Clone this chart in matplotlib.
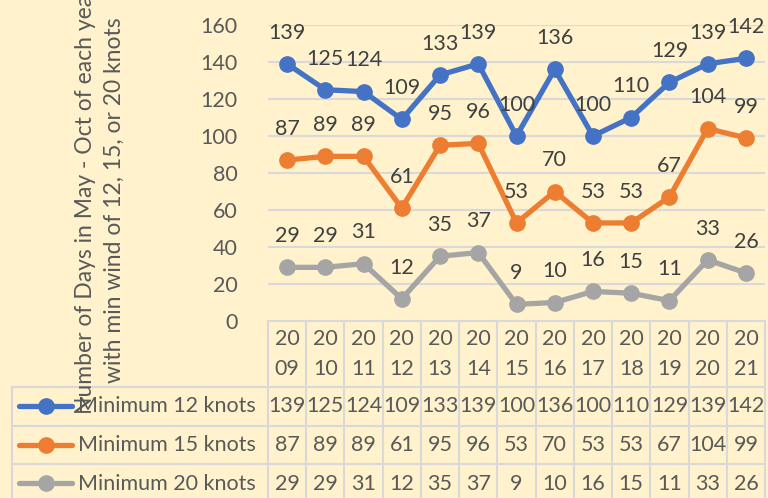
import matplotlib
matplotlib.use("Agg")
import matplotlib.pyplot as plt
from matplotlib.transforms import Affine2D, blended_transform_factory
from matplotlib.lines import Line2D

years = ["2009", "2010", "2011", "2012", "2013", "2014", "2015", "2016", "2017", "2018", "2019", "2020", "2021"]
min12 = [139, 125, 124, 109, 133, 139, 100, 136, 100, 110, 129, 139, 142]
min15 = [87, 89, 89, 61, 95, 96, 53, 70, 53, 53, 67, 104, 99]
min20 = [29, 29, 31, 12, 35, 37, 9, 10, 16, 15, 11, 33, 26]
series_names = ["Minimum 12 knots", "Minimum 15 knots", "Minimum 20 knots"]
series = [min12, min15, min20]
colors = ["#4472C4", "#ED7D31", "#A5A5A5"]
yticks = [0, 20, 40, 60, 80, 100, 120, 140, 160]
ylabel = "Number of Days in May - Oct of each year\nwith min wind of 12, 15, or 20 knots"

BG = "#FFF2CC"
TXT = "#595959"
GRID = "#D9D9D9"
FONT = "Lato"
FS = 15.5

W, H = 768, 498
fig = plt.figure(figsize=(W / 100, H / 100), dpi=100, facecolor=BG)
L, R, T, B = 268, 765, 25, 321
ax = fig.add_axes([L / W, 1 - B / H, (R - L) / W, (B - T) / H])
ax.set_facecolor(BG)
n = len(years)
xs = list(range(n))
ax.set_xlim(-0.5, n - 0.5)
ax.set_ylim(0, 160)
for s in ax.spines.values():
    s.set_visible(False)
ax.set_xticks([])
ax.set_yticks(yticks)
ax.set_yticklabels([str(v) for v in yticks], fontfamily=FONT, fontsize=FS, color=TXT)
ax.tick_params(axis="y", length=0, pad=22)
for v in yticks[1:]:
    ax.axhline(v, color=GRID, lw=1.5, zorder=0)

for vals, c in zip(series, colors):
    ax.plot(xs, vals, color=c, lw=3.8, marker="o", ms=11, zorder=3, solid_capstyle="round")
    for x, v in zip(xs, vals):
        ax.annotate(str(v), (x, v), xytext=(0, 22.5), textcoords="offset points",
                    ha="center", va="center", fontfamily=FONT, fontsize=FS, color="#404040",
                    annotation_clip=False)

# pixel transform (x, y from top)
pix = Affine2D().scale(1 / W, -1 / H).translate(0, 1) + fig.transFigure
bt = blended_transform_factory(ax.transData, pix)

# data table
tl = dict(color=GRID, lw=1.5, clip_on=False)
row_top = 321
hdr_bot = 387
rows = [387, 426, 464, 503]
for y in [row_top] + rows:
    fig.add_artist(Line2D([-0.5, n - 0.5], [y, y], transform=bt, **tl))
for y in rows:
    fig.add_artist(Line2D([12, L], [y, y], transform=pix, **tl))
fig.add_artist(Line2D([12, 12], [hdr_bot, 503], transform=pix, **tl))
for i in range(n + 1):
    fig.add_artist(Line2D([i - 0.5, i - 0.5], [row_top, 503], transform=bt, **tl))

for x, yr in zip(xs, years):
    fig.text(x, 339, yr[:2], transform=bt, ha="center", va="center",
             fontfamily=FONT, fontsize=FS, color=TXT)
    fig.text(x, 369, yr[2:], transform=bt, ha="center", va="center",
             fontfamily=FONT, fontsize=FS, color=TXT)

for r, (name, vals, c) in enumerate(zip(series_names, series, colors)):
    yc = (rows[r] + rows[r + 1]) / 2
    fig.add_artist(Line2D([19, 72], [yc, yc], transform=pix, color=c, lw=3.8,
                          solid_capstyle="round"))
    fig.add_artist(Line2D([45.5], [yc], transform=pix, color=c, marker="o", ms=11))
    fig.text(78, yc, name, transform=pix, ha="left", va="center",
             fontfamily=FONT, fontsize=FS, color=TXT)
    for x, v in zip(xs, vals):
        fig.text(x, yc, str(v), transform=bt, ha="center", va="center",
                 fontfamily=FONT, fontsize=FS, color=TXT)

# y-axis title (drawn on top, partly clipped at the top like the reference)
fig.text(100 / W, 1 - 200 / H, ylabel, rotation=90, ha="center", va="center",
         fontfamily=FONT, fontsize=16.5, color=TXT, linespacing=1.45, multialignment="center",
         zorder=10)

fig.savefig("out.png", dpi=100, facecolor=BG)
